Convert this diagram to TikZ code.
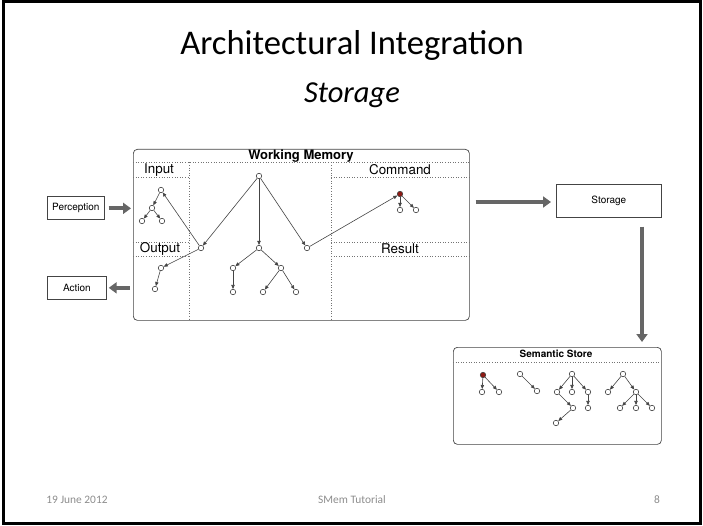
\documentclass[tikz,border=0pt]{standalone}
\usepackage{fontspec}
\setmainfont{Carlito}
\newfontfamily\helv{TeX Gyre Heros}
\usetikzlibrary{arrows.meta}

\definecolor{inkgray}{HTML}{444444}
\definecolor{fatgray}{HTML}{666666}
\definecolor{hotred}{HTML}{8E1A14}
\definecolor{footgray}{HTML}{8C8C8C}

\begin{document}
\begin{tikzpicture}[x=1pt,y=-1pt,
  vtx/.style={circle,draw=inkgray,fill=white,line width=0.6pt,inner sep=0pt,minimum size=5.5pt},
  hot/.style={vtx,fill=hotred},
  edge/.style={draw=inkgray,line width=0.6pt,-{Triangle[length=4pt,width=3.4pt]}},
  sect/.style={draw=black!55,dotted,line width=0.6pt},
  panel/.style={draw=inkgray,line width=0.7pt,rounded corners=4pt,inner sep=0pt,anchor=north west},
  plainbox/.style={draw=inkgray,line width=0.7pt,fill=white,inner sep=0pt,anchor=north west,font=\helv\fontsize{10}{12}\selectfont},
  fat/.style={draw=fatgray,line width=4pt,-{Triangle[length=8pt,width=11pt]}},
  wmlabel/.style={font=\helv\fontsize{13.4}{15}\selectfont},
  foot/.style={font=\fontsize{11.4}{13}\selectfont,text=footgray}
]
\useasboundingbox (0,0) rectangle (703,526);
% slide frame
\draw[line width=3pt] (3.5,2) rectangle (700.5,523.5);

% title
\node (title) at (352,45) {\fontsize{34.6}{42}\selectfont Architectural Integration};
\node (subtitle) at (352,95) {\fontsize{30.5}{36}\selectfont\itshape Storage};

% working memory panel
\node[panel,minimum width=336pt,minimum height=171pt] (wm) at (133,149) {};
\node[font=\helv\bfseries\fontsize{13}{15}\selectfont] (wmtitle) at (301,156) {Working Memory};
\draw[sect] (133,162.5) -- (469,162.5);
\draw[sect] (189,162.5) -- (189,320);
\draw[sect] (331,162.5) -- (331,320);
\draw[sect] (133,177) -- (189,177);
\draw[sect] (133,242) -- (189,242);
\draw[sect] (133,256) -- (189,256);
\draw[sect] (331,177) -- (469,177);
\draw[sect] (331,242) -- (469,242);
\draw[sect] (331,256) -- (469,256);
\node[wmlabel] (linput) at (159,170) {Input};
\node[wmlabel] (loutput) at (160,249) {Output};
\node[wmlabel] (lcommand) at (400,170) {Command};
\node[wmlabel] (lresult) at (400,249) {Result};

% working memory graph
\node[vtx] (r) at (259,176) {};
\node[vtx] (c1) at (201,248) {};
\node[vtx] (c2) at (259,248) {};
\node[vtx] (c3) at (307,248) {};
\node[vtx] (in1) at (161,190) {};
\node[vtx] (in2) at (152,208) {};
\node[vtx] (in3) at (142,221) {};
\node[vtx] (in4) at (162,221) {};
\node[vtx] (out1) at (161,268) {};
\node[vtx] (out2) at (155,289) {};
\node[vtx] (m1) at (233,268) {};
\node[vtx] (m2) at (281,268) {};
\node[vtx] (m3) at (233,292) {};
\node[vtx] (m4) at (263,292) {};
\node[vtx] (m5) at (296,292) {};
\node[hot] (cmd) at (400,194) {};
\node[vtx] (cmd1) at (400,210) {};
\node[vtx] (cmd2) at (416,210) {};

\draw[edge] (r) -- (c1);
\draw[edge] (r) -- (c2);
\draw[edge] (r) -- (c3);
\draw[edge] (c1) -- (in1);
\draw[edge] (c1) -- (out1);
\draw[edge] (in1) -- (in2);
\draw[edge] (in2) -- (in3);
\draw[edge] (in2) -- (in4);
\draw[edge] (out1) -- (out2);
\draw[edge] (c2) -- (m1);
\draw[edge] (c2) -- (m2);
\draw[edge] (m1) -- (m3);
\draw[edge] (m2) -- (m4);
\draw[edge] (m2) -- (m5);
\draw[edge] (c3) -- (cmd);
\draw[edge] (cmd) -- (cmd1);
\draw[edge] (cmd) -- (cmd2);

% perception and action
\node[plainbox,minimum width=57pt,minimum height=23pt] (perc) at (47,196.5) {Perception};
\node[plainbox,minimum width=59pt,minimum height=22pt] (act) at (47,276.5) {Action};
\draw[fat] (perc.east) ++(4,0) coordinate (pa) -- (pa -| wm.west) [shorten >=2pt];
\coordinate (aa) at (wm.west |- act.east);
\draw[fat,shorten <=3pt,shorten >=2pt] (aa) -- (act.east);

% storage
\node[plainbox,minimum width=105pt,minimum height=33pt] (stor) at (556,184) {Storage};
\coordinate (sa) at (wm.east |- 0,202);
\draw[fat,shorten <=6pt,shorten >=5pt] (sa) -- (sa -| stor.west);

% semantic store
\node[panel,minimum width=208pt,minimum height=97pt] (sem) at (453,347) {};
\node[font=\helv\bfseries\fontsize{10}{12}\selectfont] (semtitle) at (556,354) {Semantic Store};
\draw[sect] (453,362) -- (661,362);
\coordinate (da) at (642,0);
\draw[fat,shorten <=9pt,shorten >=5pt] (da |- stor.south) -- (da |- sem.north);

\node[hot] (s1) at (483,375) {};
\node[vtx] (s1a) at (482,392) {};
\node[vtx] (s1b) at (499,392) {};
\node[vtx] (s2) at (520,374) {};
\node[vtx] (s2a) at (537,391) {};
\node[vtx] (s3) at (572,374) {};
\node[vtx] (s3a) at (557,392) {};
\node[vtx] (s3b) at (572,392) {};
\node[vtx] (s3c) at (588,392) {};
\node[vtx] (s3d) at (573,408) {};
\node[vtx] (s3e) at (588,408) {};
\node[vtx] (s3f) at (556,423) {};
\node[vtx] (s4) at (623,374) {};
\node[vtx] (s4a) at (608,392) {};
\node[vtx] (s4b) at (636,392) {};
\node[vtx] (s4c) at (620,408) {};
\node[vtx] (s4d) at (636,408) {};
\node[vtx] (s4e) at (652,408) {};
\draw[edge] (s1) -- (s1a);
\draw[edge] (s1) -- (s1b);
\draw[edge] (s2) -- (s2a);
\draw[edge] (s3) -- (s3a);
\draw[edge] (s3) -- (s3b);
\draw[edge] (s3) -- (s3c);
\draw[edge] (s3a) -- (s3d);
\draw[edge] (s3c) -- (s3e);
\draw[edge] (s3d) -- (s3f);
\draw[edge] (s4) -- (s4a);
\draw[edge] (s4) -- (s4b);
\draw[edge] (s4b) -- (s4c);
\draw[edge] (s4b) -- (s4d);
\draw[edge] (s4b) -- (s4e);

% footer
\node[foot] (date) at (77,500) {19 June 2012};
\node[foot] (talk) at (352,500) {SMem Tutorial};
\node[foot] (page) at (657,500) {8};
\end{tikzpicture}
\end{document}
